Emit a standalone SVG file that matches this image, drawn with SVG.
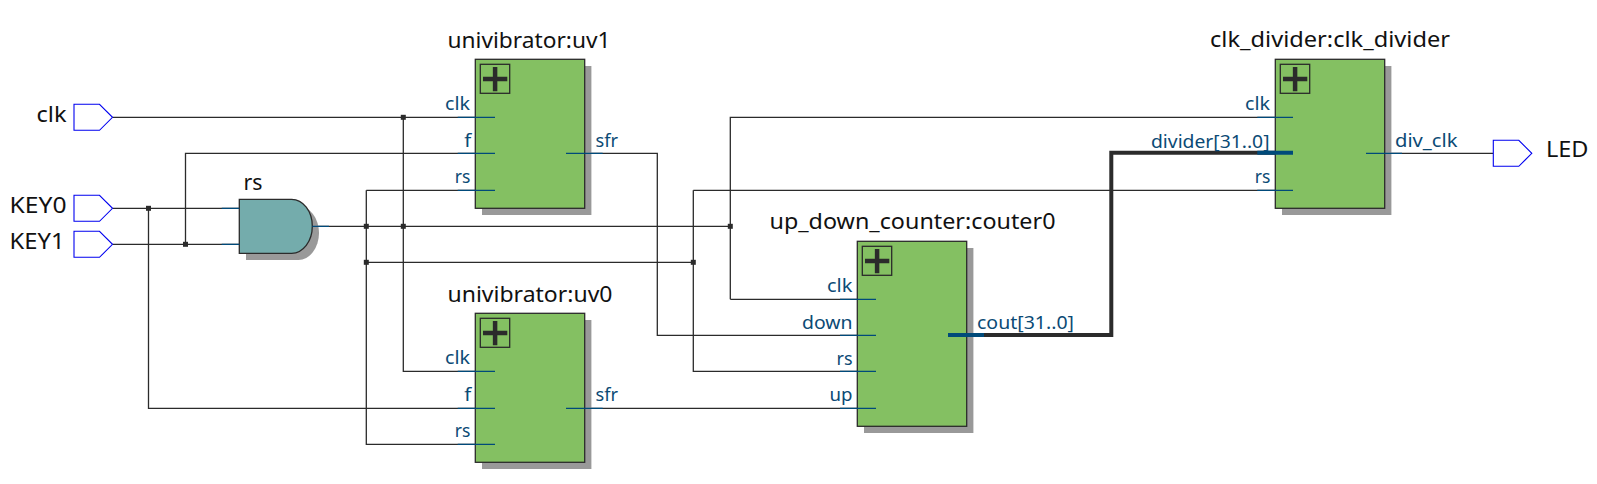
<svg xmlns="http://www.w3.org/2000/svg" width="1597" height="484" viewBox="0 0 1597 484">
<style>
text{font-family:"Noto Sans","Open Sans",sans-serif}
.t{font-size:22px;fill:#111}
.p{font-size:18px;fill:#0b4a75}
.w{fill:none;stroke:#2b2b2b;stroke-width:1.3}
.b{fill:none;stroke:#2b2b2b;stroke-width:4}
.s{fill:none;stroke:#004a7a;stroke-width:1.3}
.sb{fill:none;stroke:#004a7a;stroke-width:4}
.box{fill:#84c062;stroke:#2b2b2b;stroke-width:1.3}
.sh{fill:#999}
.plus{fill:none;stroke:#2b2b2b;stroke-width:1.3}
.pb{fill:none;stroke:#2b2b2b;stroke-width:4.5}
.pin{fill:#fff;stroke:#0000f0;stroke-width:1.1}
.j{fill:#2b2b2b}
</style>
<defs>
<g id="pl"><rect class="plus" x="5" y="5" width="29.4" height="29"/><path class="pb" d="M7.7 19.7H32M19.8 7.7V32"/></g>
<g id="pinshape"><path class="pin" d="M0 0H25.5L38.5 13L25.5 26H0Z"/></g>
</defs>
<g id="connectors">
<path class="w" d="M112.5 117.3H495"/>
<path class="w" d="M112.5 208.3H239"/>
<path class="w" d="M112.5 244.3H239"/>
<path class="w" d="M148.5 208.3V408.3H495"/>
<path class="w" d="M185.5 244.3V153.3H495"/>
<path class="w" d="M312 226.3H730.3"/>
<path class="w" d="M366.3 190.3H495"/>
<path class="w" d="M366.3 190.3V444.3H495"/>
<path class="w" d="M366.3 262.3H693.3"/>
<path class="w" d="M403.3 117.3V371.3H495"/>
<path class="w" d="M566 153.3H657.3V335.3H876"/>
<path class="w" d="M566 408.3H876"/>
<path class="w" d="M730.3 299.3V117.3H1293"/>
<path class="w" d="M730.3 299.3H876"/>
<path class="w" d="M693.3 190.3V371.3H876"/>
<path class="w" d="M693.3 190.3H1293"/>
<path class="b" d="M948 335H1111.3V152.7H1293"/>
<path class="w" d="M1366 153.3H1493.3"/>
<rect class="j" x="146" y="205.8" width="5" height="5"/>
<rect class="j" x="183" y="241.8" width="5" height="5"/>
<rect class="j" x="400.8" y="114.8" width="5" height="5"/>
<rect class="j" x="363.8" y="223.8" width="5" height="5"/>
<rect class="j" x="400.8" y="223.8" width="5" height="5"/>
<rect class="j" x="363.8" y="259.8" width="5" height="5"/>
<rect class="j" x="727.8" y="223.8" width="5" height="5"/>
<rect class="j" x="690.8" y="259.8" width="5" height="5"/>
</g>
<g id="clk_pin"><use href="#pinshape" x="74" y="104.3"/><text x="36.5" y="121.7" class="t" textLength="30" lengthAdjust="spacingAndGlyphs">clk</text></g>
<g id="key0_pin"><use href="#pinshape" x="74" y="195.3"/><text x="9.5" y="212.7" class="t" textLength="57" lengthAdjust="spacingAndGlyphs">KEY0</text></g>
<g id="key1_pin"><use href="#pinshape" x="74" y="231.3"/><text x="9.5" y="248.7" class="t" textLength="55" lengthAdjust="spacingAndGlyphs">KEY1</text></g>
<g id="led_pin"><use href="#pinshape" x="1493.3" y="140.3"/><text x="1546" y="157.3" class="t" textLength="42.5" lengthAdjust="spacingAndGlyphs">LED</text></g>
<g id="rs">
<path class="sh" d="M246 206H298.4A20.6 27 0 0 1 298.4 260H246Z"/>
<path d="M239.3 199.3H291.7A20.6 27 0 0 1 291.7 253.3H239.3Z" fill="#74acac" stroke="#2b2b2b" stroke-width="1.3"/>
<path class="s" d="M221.7 208.3H239.3M221.7 244.3H239.3M312.3 226.3H329"/>
<text x="243.5" y="190" class="t" textLength="19" lengthAdjust="spacingAndGlyphs">rs</text>
</g>
<g id="uv1">
<rect class="sh" x="482" y="66" width="109.4" height="149"/>
<rect class="box" x="475.3" y="59.3" width="109.4" height="149"/>
<use href="#pl" x="475.3" y="59.3"/>
<path class="s" d="M457.7 117.3H495M457.7 153.3H495M457.7 190.3H495M566 153.3H602.7"/>
<text x="447.5" y="47.5" class="t" textLength="163" lengthAdjust="spacingAndGlyphs">univibrator:uv1</text>
<text x="445" y="110" class="p" textLength="25" lengthAdjust="spacingAndGlyphs">clk</text>
<text x="464.3" y="147.3" class="p" textLength="7" lengthAdjust="spacingAndGlyphs">f</text>
<text x="454.7" y="183.3" class="p" textLength="15.6" lengthAdjust="spacingAndGlyphs">rs</text>
<text x="595.5" y="147.3" class="p" textLength="22.5" lengthAdjust="spacingAndGlyphs">sfr</text>
</g>
<g id="uv0">
<rect class="sh" x="482" y="320" width="109.4" height="149"/>
<rect class="box" x="475.3" y="313.3" width="109.4" height="149"/>
<use href="#pl" x="475.3" y="313.3"/>
<path class="s" d="M457.7 371.3H495M457.7 408.3H495M457.7 444.3H495M566 408.3H602.7"/>
<text x="447.5" y="301.5" class="t" textLength="165" lengthAdjust="spacingAndGlyphs">univibrator:uv0</text>
<text x="445" y="364" class="p" textLength="25" lengthAdjust="spacingAndGlyphs">clk</text>
<text x="464.3" y="400.7" class="p" textLength="7" lengthAdjust="spacingAndGlyphs">f</text>
<text x="454.7" y="437.3" class="p" textLength="15.6" lengthAdjust="spacingAndGlyphs">rs</text>
<text x="595.5" y="400.7" class="p" textLength="22.5" lengthAdjust="spacingAndGlyphs">sfr</text>
</g>
<g id="couter0">
<rect class="sh" x="864" y="248" width="109.4" height="185"/>
<rect class="box" x="857.3" y="241.3" width="109.4" height="185"/>
<use href="#pl" x="857.3" y="241.3"/>
<path class="s" d="M840 299.3H876M840 335.3H876M840 371.3H876M840 408.3H876"/>
<path class="sb" d="M948 335H984"/>
<text x="769.5" y="229" class="t" textLength="286" lengthAdjust="spacingAndGlyphs">up_down_counter:couter0</text>
<text x="827" y="292" class="p" textLength="25.5" lengthAdjust="spacingAndGlyphs">clk</text>
<text x="802" y="328.7" class="p" textLength="50.5" lengthAdjust="spacingAndGlyphs">down</text>
<text x="836.5" y="365" class="p" textLength="16" lengthAdjust="spacingAndGlyphs">rs</text>
<text x="829.5" y="400.7" class="p" textLength="23" lengthAdjust="spacingAndGlyphs">up</text>
<text x="977" y="329" class="p" textLength="97" lengthAdjust="spacingAndGlyphs">cout[31..0]</text>
</g>
<g id="clk_divider">
<rect class="sh" x="1282" y="66" width="109.4" height="149"/>
<rect class="box" x="1275.3" y="59.3" width="109.4" height="149"/>
<use href="#pl" x="1275.3" y="59.3"/>
<path class="s" d="M1257.3 117.3H1293M1257.3 190.3H1293M1366 153.3H1402"/>
<path class="sb" d="M1257.3 152.7H1293"/>
<text x="1210" y="47.3" class="t" textLength="240" lengthAdjust="spacingAndGlyphs">clk_divider:clk_divider</text>
<text x="1245" y="110" class="p" textLength="25" lengthAdjust="spacingAndGlyphs">clk</text>
<text x="1151" y="148" class="p" textLength="118.5" lengthAdjust="spacingAndGlyphs">divider[31..0]</text>
<text x="1254.7" y="183.3" class="p" textLength="15.6" lengthAdjust="spacingAndGlyphs">rs</text>
<text x="1395" y="147" class="p" textLength="62.5" lengthAdjust="spacingAndGlyphs">div_clk</text>
</g>
</svg>
